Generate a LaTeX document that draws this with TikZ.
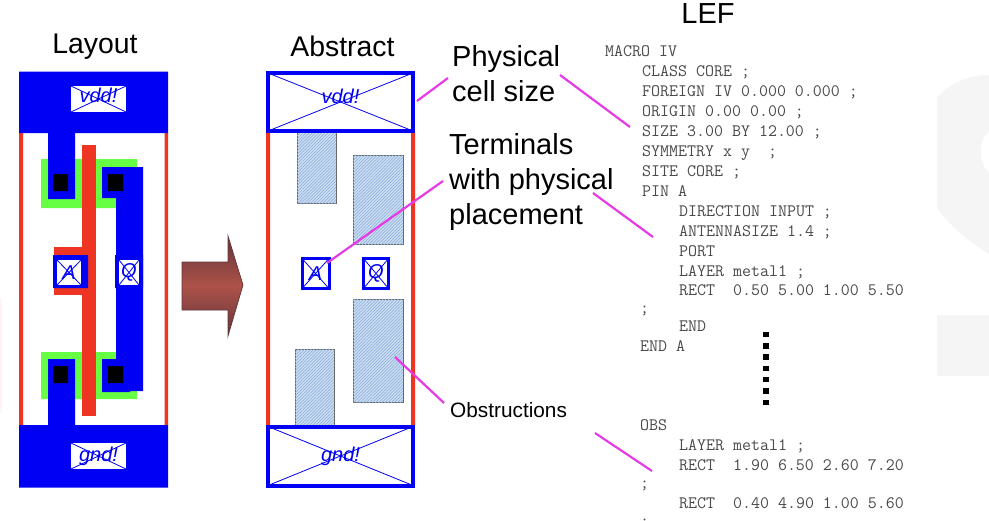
\documentclass[tikz,border=0pt]{standalone}
\usepackage{fontspec}
\setmainfont{Liberation Sans}
\usetikzlibrary{patterns.meta,positioning}
\definecolor{metalblue}{HTML}{0000F5}
\definecolor{polyred}{HTML}{EE3524}
\definecolor{diffgreen}{HTML}{66FF44}
\definecolor{leader}{HTML}{E63AE6}
\definecolor{obsfill}{HTML}{CFE0F4}
\definecolor{obsline}{HTML}{8FB0DA}
\definecolor{lefgray}{HTML}{4A4A4A}
\definecolor{wmark}{HTML}{F5F5F5}
\definecolor{arrowdark}{HTML}{63353A}
\definecolor{arrowmid}{HTML}{AC5249}

\begin{document}
\begin{tikzpicture}[x=1pt,y=-1pt,
  title/.style={font=\fontsize{28.4}{32}\selectfont,inner sep=0pt},
  callout/.style={font=\fontsize{29}{35}\selectfont,inner sep=0pt,align=left,anchor=west},
  metal/.style={fill=metalblue},
  poly/.style={fill=polyred},
  diff/.style={fill=diffgreen},
  crossbox/.style={fill=white,draw=none,inner sep=0pt,text=metalblue,
    font=\fontsize{20}{20}\selectfont\itshape,
    path picture={\draw[metalblue,line width=.8pt]
      (path picture bounding box.north west) -- (path picture bounding box.south east)
      (path picture bounding box.south west) -- (path picture bounding box.north east);}},
  railbox/.style={crossbox,draw=metalblue,line width=4pt},
  pinbox/.style={crossbox,draw=metalblue,line width=3pt,minimum height=30pt},
  obs/.style={draw=gray!80!black,line width=.8pt,fill=obsfill,postaction={
    pattern={Lines[angle=45,distance=2.2pt,line width=.7pt]},pattern color=obsline}},
  leaderline/.style={draw=leader,line width=2.2pt},
  lefline/.style={font=\fontsize{17.45}{18}\ttfamily,text=lefgray,inner sep=0pt,anchor=base west},
  dotsq/.style={fill=black,inner sep=0pt,minimum size=5.5pt}]
\clip[use as bounding box] (0,0) rectangle (989,520);

% watermark in the far corner
\fill[wmark] (989,75) .. controls (968,75) and (948,84) .. (937,98) -- (937,208)
  .. controls (950,226) and (970,243) .. (989,254) -- (989,172)
  .. controls (978,165) and (978,138) .. (989,132) -- cycle;
\fill[wmark] (937,315) rectangle (989,376);
\fill[red!4] (0,298) rectangle (2,413);

% titles
\node[title] (layout) at (95,46.5) {Layout};
\node[title] (abstract) at (342.5,46) {Abstract};
\node[title,font=\fontsize{29}{32}\selectfont] (lef) at (708,14) {LEF};

% layout cell
\fill[poly] (19,133) rectangle (23,425) (164.5,133) rectangle (168,425);
\fill[diff] (41,159) rectangle (137,208) (41,352) rectangle (137,399);
\fill[poly] (54,247) rectangle (96,295);
\fill[metal] (19,71.5) rectangle (168,133) (19,425) rectangle (168,487.5);
\fill[metal] (48,133) rectangle (75,199) (48,359) rectangle (75,425);
\fill[poly] (82,145) rectangle (96,416);
\fill[metal] (102,167) rectangle (143,198) (116,167) rectangle (143,391)
  (102,359) rectangle (130,392);
\fill[metal] (53,255) rectangle (88,288) (115,255) rectangle (143,288);
\fill[black] (53,174) rectangle (68,191) (108,174) rectangle (123,191)
  (53,366) rectangle (68,383) (108,366) rectangle (123,383);
\node[crossbox,minimum width=55pt,minimum height=26pt] (vddL) at (98.5,99) {\raisebox{7pt}{vdd!}};
\node[crossbox,minimum width=55pt,minimum height=26pt] (gndL) at (98.5,456) {gnd!};
\node[crossbox,minimum width=24pt,minimum height=25pt] (pinAL) at (69,272.5) {A};
\node[crossbox,minimum width=20pt,minimum height=25pt] (pinQL) at (129,272.5) {Q};

% arrow between the two views
\path[draw=arrowdark,line width=.7pt,top color=arrowdark,bottom color=arrowdark,middle color=arrowmid]
  (182,262) -- (228,262) -- (228,236) -- (243,285) -- (228,336) -- (228,310) -- (182,310) -- cycle;

% abstract cell
\fill[poly] (266,133) rectangle (270,425) (411,133) rectangle (415,425);
\draw[obs] (297,131) rectangle (336,203);
\draw[obs] (353,155) rectangle (403,244);
\draw[obs] (353,299) rectangle (403,402);
\draw[obs] (295,349) rectangle (334,426);
\node[railbox,minimum width=145pt,minimum height=58pt] (vddA) at (340.5,102) {\raisebox{11pt}{vdd!}};
\node[railbox,minimum width=145pt,minimum height=59pt] (gndA) at (340.5,456) {gnd!};
\node[pinbox,minimum width=27pt] (pinAA) at (315.5,273.5) {A};
\node[pinbox,minimum width=25pt] (pinQA) at (376,273.5) {Q};

% callouts
\node[callout] (cellsize) at (452,74) {Physical\\cell size};
\node[callout] (terminals) at (449,182) {Terminals\\with physical\\placement};
\node[inner sep=0pt,anchor=west,font=\fontsize{20.8}{22}\selectfont] (obstr) at (450,410) {Obstructions};

% LEF listing
\foreach \x/\y/\txt [count=\i] in {
  605/56/MACRO IV,
  642/76/CLASS CORE ;,
  642/96/FOREIGN IV 0.000 0.000 ;,
  642/116/ORIGIN 0.00 0.00 ;,
  642/136/SIZE 3.00 BY 12.00 ;,
  642/156/SYMMETRY x y~~;,
  642/176/SITE CORE ;,
  642/196/PIN A,
  679/216/DIRECTION INPUT ;,
  679/236/ANTENNASIZE 1.4 ;,
  679/256/PORT,
  679/276/LAYER metal1 ;,
  679/295/RECT~~0.50 5.00 1.00 5.50,
  640/313/;,
  679/331/END,
  640/351/END A,
  640/430/OBS,
  679/450/LAYER metal1 ;,
  679/470/RECT~~1.90 6.50 2.60 7.20,
  640/488/;,
  679/508/RECT~~0.40 4.90 1.00 5.60,
  640/526/;}
  \node[lefline] (lef\i) at (\x,\y) {\txt};
\foreach \y [count=\i] in {334.5,345.8,357.1,368.4,379.7,391,402.3}
  \node[dotsq] (dot\i) at (766,\y) {};

% leader lines
\coordinate (railtip) at (417,101);
\coordinate (sizetip) at (448,78);
\coordinate (sizefrom) at (560,75);
\coordinate (sizeto) at (630,127);
\coordinate (termfrom) at (443,181);
\coordinate (pintip) at (327,263);
\coordinate (antfrom) at (593,193);
\coordinate (antto) at (653,237);
\coordinate (obsin) at (395,357);
\coordinate (obsout) at (444,403);
\coordinate (rectfrom) at (595,433);
\coordinate (rectto) at (652,471);
\draw[leaderline] (railtip) -- (sizetip);
\draw[leaderline] (sizefrom) -- (sizeto);
\draw[leaderline] (termfrom) -- (pintip);
\draw[leaderline] (antfrom) -- (antto);
\draw[leaderline] (obsin) -- (obsout);
\draw[leaderline] (rectfrom) -- (rectto);
\end{tikzpicture}
\end{document}
